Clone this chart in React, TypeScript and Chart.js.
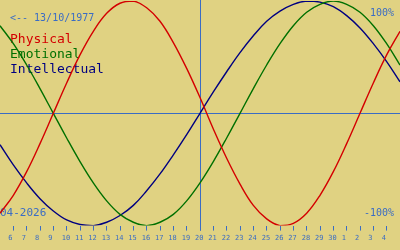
import { useEffect, useRef } from "react";
import { Chart, registerables } from "chart.js";

Chart.register(...registerables);

// Day-of-month positions (5 April .. 5 May); 31..35 are May 1..5
const days = [5, 6, 7, 8, 9, 10, 11, 12, 13, 14, 15, 16, 17, 18, 19, 20, 21, 22, 23, 24, 25, 26, 27, 28, 29, 30, 31, 32, 33, 34, 35];
const tickDays = [6, 7, 8, 9, 10, 11, 12, 13, 14, 15, 16, 17, 18, 19, 20, 21, 22, 23, 24, 25, 26, 27, 28, 29, 30, 31, 32, 33, 34];
const physical = [-89, -73, -52, -27, 0, 27, 52, 73, 89, 98, 100, 94, 82, 63, 40, 14, -14, -40, -63, -82, -94, -100, -98, -89, -73, -52, -27, 0, 27, 52, 73];
const emotional = [78, 62, 43, 22, 0, -22, -43, -62, -78, -90, -97, -100, -97, -90, -78, -62, -43, -22, 0, 22, 43, 62, 78, 90, 97, 100, 97, 90, 78, 62, 43];
const intellectual = [-28, -46, -62, -76, -87, -95, -99, -100, -97, -91, -82, -69, -54, -37, -19, 0, 19, 37, 54, 69, 82, 91, 97, 100, 99, 95, 87, 76, 62, 46, 28];
const seriesLabels = ["Physical", "Emotional", "Intellectual"];
const seriesColors = ["#d40000", "#007000", "#000080"];
const today = 20;
const monthLength = 30;
const birthLabel = "<-- 13/10/1977";
const monthLabel = "04-2026";
const maxLabel = "100%";
const minLabel = "-100%";

const BG = "rgb(224,210,130)";
const AXIS = "#3a6cc4";
const MONO = "'DejaVu Sans Mono', monospace";

export default function App() {
  const ref = useRef<HTMLCanvasElement>(null);

  useEffect(() => {
    document.body.style.margin = "0";
    const canvas = ref.current;
    if (!canvas) return;

    const series = [physical, emotional, intellectual];

    const decor = {
      id: "decor",
      beforeDraw(chart: any) {
        const c = chart.ctx;
        c.save();
        c.fillStyle = BG;
        c.fillRect(0, 0, chart.width, chart.height);
        c.restore();
      },
      beforeDatasetsDraw(chart: any) {
        const c = chart.ctx;
        const xs = chart.scales.x;
        const ys = chart.scales.y;
        const area = chart.chartArea;
        c.save();
        // texts
        c.textBaseline = "alphabetic";
        c.fillStyle = AXIS;
        c.font = `10px ${MONO}`;
        c.textAlign = "left";
        c.fillText(birthLabel, 10, 20.5);
        c.font = `13px ${MONO}`;
        chart.data.datasets.forEach((ds: any, i: number) => {
          c.fillStyle = ds.borderColor;
          c.fillText(ds.label, 10, 42.5 + i * 15);
        });
        c.fillStyle = AXIS;
        c.font = `10px ${MONO}`;
        c.textAlign = "right";
        c.fillText(maxLabel, 394, 16);
        c.fillText(minLabel, 394, 216);
        c.textAlign = "left";
        c.font = `11px ${MONO}`;
        c.fillText(monthLabel, 0, 216);
        // reference lines
        c.strokeStyle = AXIS;
        c.lineWidth = 1;
        const y0 = Math.round(ys.getPixelForValue(0)) + 0.5;
        c.beginPath();
        c.moveTo(0, y0);
        c.lineTo(chart.width, y0);
        c.stroke();
        const xt = Math.round(xs.getPixelForValue(today)) + 0.5;
        c.beginPath();
        c.moveTo(xt, 0);
        c.lineTo(xt, area.bottom + 5);
        c.stroke();
        c.restore();
      },
    };

    const chart = new Chart(canvas, {
      type: "line",
      data: {
        datasets: seriesLabels.map((label, i) => ({
          label,
          data: days.map((d, j) => ({ x: d, y: series[i][j] })),
          borderColor: seriesColors[i],
          backgroundColor: seriesColors[i],
          borderWidth: 1.4,
          pointRadius: 0,
          tension: 0.4,
          fill: false,
        })),
      },
      options: {
        responsive: false,
        animation: false,
        events: [],
        layout: { padding: { top: 1, left: 0, right: 0, bottom: 5 } },
        plugins: { legend: { display: false }, tooltip: { enabled: false } },
        scales: {
          x: {
            type: "linear",
            min: days[0],
            max: days[days.length - 1],
            afterBuildTicks: (axis: any) => {
              axis.ticks = tickDays.map((v) => ({ value: v }));
            },
            border: { display: false },
            grid: {
              display: true,
              drawOnChartArea: false,
              drawTicks: true,
              tickLength: 5,
              color: AXIS,
              lineWidth: 1,
            },
            ticks: {
              autoSkip: false,
              maxRotation: 0,
              minRotation: 0,
              align: "start",
              labelOffset: -5,
              padding: 3,
              color: AXIS,
              font: { family: MONO, size: 7 },
              callback: (v: any) => String(Number(v) > monthLength ? Number(v) - monthLength : v),
            },
          },
          y: {
            display: false,
            min: -100,
            max: 100,
          },
        },
      },
      plugins: [decor],
    } as any);

    return () => chart.destroy();
  }, []);

  return (
    <div style={{ width: 400, height: 250, margin: 0, padding: 0 }}>
      <canvas ref={ref} width={400} height={250} style={{ display: "block" }} />
    </div>
  );
}
